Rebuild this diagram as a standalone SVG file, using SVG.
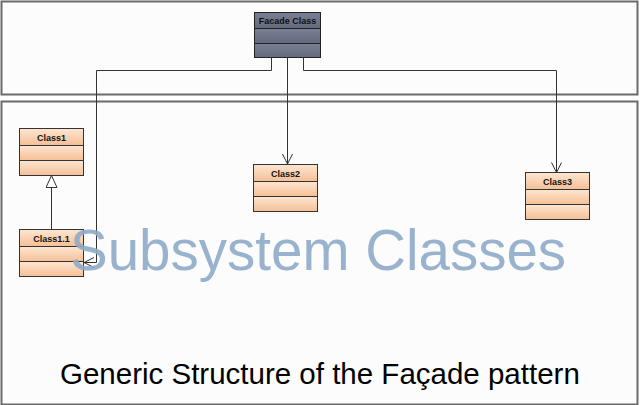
<svg xmlns="http://www.w3.org/2000/svg" width="640" height="405" viewBox="0 0 640 405">
<defs>
<linearGradient id="peach" x1="0" y1="0" x2="0" y2="1">
<stop offset="0" stop-color="#fde6d2"/>
<stop offset="1" stop-color="#f5bf95"/>
</linearGradient>
<linearGradient id="slate" x1="0" y1="0" x2="0" y2="1">
<stop offset="0" stop-color="#7a8094"/>
<stop offset="1" stop-color="#646a7e"/>
</linearGradient>
<marker id="open" viewBox="0 0 12 12" refX="11" refY="6" markerWidth="12" markerHeight="12" markerUnits="userSpaceOnUse" orient="auto">
<path d="M1,1 L11,6 L1,11" fill="none" stroke="#333" stroke-width="1"/>
</marker>
<marker id="tri" viewBox="0 0 14 12" refX="13" refY="6" markerWidth="14" markerHeight="12" markerUnits="userSpaceOnUse" orient="auto">
<path d="M1,0.5 L13,6 L1,11.5 Z" fill="#fff" stroke="#333" stroke-width="1"/>
</marker>
</defs>
<style>
.panel{fill:#fcfcfc;stroke:#6a6a6a;stroke-width:2}
.cls rect{fill:url(#peach);stroke:#333;stroke-width:1}
.fac rect{fill:url(#slate);stroke:#222;stroke-width:1}
.lbl{font-family:"Liberation Sans",Arial,sans-serif;font-weight:bold;font-size:9px;fill:#111;text-anchor:middle}
.conn{fill:none;stroke:#333;stroke-width:1}
</style>
<rect x="0" y="0" width="640" height="405" fill="#fff"/>
<g id="facade-panel"><rect class="panel" x="1.5" y="1.5" width="636" height="93"/></g>
<g id="subsystem-panel"><rect class="panel" x="1.5" y="101.5" width="636" height="303"/></g>
<text x="60" y="384" font-family="Liberation Sans,Arial,sans-serif" font-size="29.5" fill="#000">Generic Structure of the Façade pattern</text>
<g id="connectors">
<path class="conn" d="M271.5,57 V70.5 H96.5 V262.5 H84" marker-end="url(#open)"/>
<path class="conn" d="M287.5,57 V164" marker-end="url(#open)"/>
<path class="conn" d="M303.5,57 V70.5 H556.5 V172.5" marker-end="url(#open)"/>
<path class="conn" d="M51.5,229 V175.5" marker-end="url(#tri)"/>
</g>
<g id="facade" class="fac">
<rect x="254.5" y="12.5" width="66" height="16"/>
<rect x="254.5" y="28.5" width="66" height="15"/>
<rect x="254.5" y="43.5" width="66" height="14"/>
<text class="lbl" x="287.5" y="24" font-size="9.5">Facade Class</text>
</g>
<g id="class1" class="cls">
<rect x="19.5" y="128.5" width="64" height="17"/>
<rect x="19.5" y="145.5" width="64" height="15"/>
<rect x="19.5" y="160.5" width="64" height="15"/>
<text class="lbl" x="51.5" y="140.5">Class1</text>
</g>
<g id="class1-1" class="cls">
<rect x="19.5" y="229.5" width="64" height="17"/>
<rect x="19.5" y="246.5" width="64" height="15"/>
<rect x="19.5" y="261.5" width="64" height="15"/>
<text class="lbl" x="51.5" y="241.5">Class1.1</text>
</g>
<g id="class2" class="cls">
<rect x="253.5" y="164.5" width="64" height="17"/>
<rect x="253.5" y="181.5" width="64" height="15"/>
<rect x="253.5" y="196.5" width="64" height="15"/>
<text class="lbl" x="285.5" y="176.5">Class2</text>
</g>
<g id="class3" class="cls">
<rect x="525.5" y="172.5" width="64" height="17"/>
<rect x="525.5" y="189.5" width="64" height="15"/>
<rect x="525.5" y="204.5" width="64" height="15"/>
<text class="lbl" x="557.5" y="184.5">Class3</text>
</g>
<text x="70" y="270" font-family="Liberation Sans,Arial,sans-serif" font-size="56.5" fill="#8eaac8" fill-opacity="0.9">Subsystem Classes</text>
</svg>
